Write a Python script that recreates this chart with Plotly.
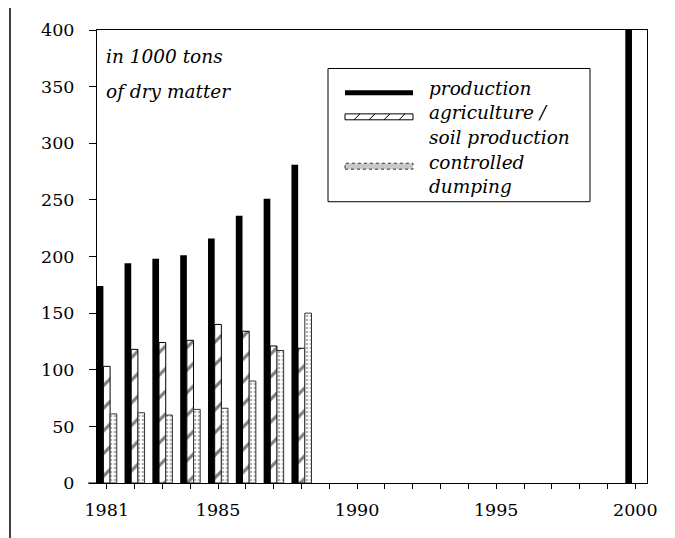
import plotly.graph_objects as go

# ---- data ----
prod_years = [1981, 1982, 1983, 1984, 1985, 1986, 1987, 1988, 2000]
production = [174, 194, 198, 201, 216, 236, 251, 281, 400]

sub_years = [1981, 1982, 1983, 1984, 1985, 1986, 1987, 1988]
agriculture = [103, 118, 124, 126, 140, 134, 121, 119]
dumping = [61, 62, 60, 65, 66, 90, 117, 150]

tick_years = list(range(1981, 2001))
tick_labels = [str(y) if y in (1981, 1985, 1990, 1995, 2000) else "" for y in tick_years]
y_ticks = [0, 50, 100, 150, 200, 250, 300, 350, 400]

legend_lines = ["production", "agriculture /", "soil production", "controlled", "dumping"]
note_lines = ["in 1000 tons", "of dry matter"]

# ---- layout geometry (page pixels; page body has an 8px margin) ----
W, H = 675, 538
OFF = 8
PL, PR, PT, PB = 97, 647, 24, 483          # plot area on the page
L, T = PL - OFF, PT - OFF
R, B = W - (PR - OFF), H - (PB - OFF)
PW, PH = PR - PL, PB - PT

def px(x):
    return (x - PL) / PW

def py(y):
    return (PB - y) / PH

FONT = "DejaVu Serif"

fig = go.Figure()
fig.add_trace(go.Bar(
    x=prod_years, y=production, name="production",
    marker=dict(color="black", line=dict(width=0)),
    showlegend=False,
))
fig.add_trace(go.Bar(
    x=sub_years, y=agriculture, name="agriculture / soil production",
    marker=dict(color="white", line=dict(color="black", width=1),
                pattern=dict(shape="/", fgcolor="black", size=16, solidity=0.2)),
    showlegend=False,
))
fig.add_trace(go.Bar(
    x=sub_years, y=dumping, name="controlled dumping",
    marker=dict(color="white", line=dict(color="#333", width=1),
                pattern=dict(shape=".", fgcolor="#666", size=4, solidity=0.35)),
    showlegend=False,
))

shapes = []
# page border line at far left
shapes.append(dict(type="line", xref="paper", yref="paper",
                   x0=px(10), x1=px(10), y0=py(H + 10), y1=py(0),
                   line=dict(color="black", width=1.5)))
# x-axis line extension to the left
shapes.append(dict(type="line", xref="paper", yref="paper",
                   x0=px(88), x1=0, y0=0, y1=0,
                   line=dict(color="black", width=1)))
# legend box
shapes.append(dict(type="rect", xref="paper", yref="paper",
                   x0=px(328), x1=px(590), y0=py(198), y1=py(63),
                   line=dict(color="black", width=1), fillcolor="white", layer="above"))
# legend sample: production
shapes.append(dict(type="rect", xref="paper", yref="paper",
                   x0=px(345), x1=px(413), y0=py(90), y1=py(85),
                   line=dict(color="black", width=0), fillcolor="black", layer="above"))
# legend sample: agriculture
shapes.append(dict(type="rect", xref="paper", yref="paper",
                   x0=px(345), x1=px(413), y0=py(115), y1=py(109),
                   line=dict(color="black", width=1), fillcolor="white", layer="above"))
for sx in (357, 372, 387, 402):
    shapes.append(dict(type="line", xref="paper", yref="paper",
                       x0=px(sx - 3), x1=px(sx + 3), y0=py(115), y1=py(109),
                       line=dict(color="black", width=1), layer="above"))
# legend sample: dumping
shapes.append(dict(type="rect", xref="paper", yref="paper",
                   x0=px(345), x1=px(413), y0=py(165), y1=py(159),
                   line=dict(color="#333", width=1, dash="dot"), fillcolor="#c8c8c8", layer="above"))

annotations = []
for t, yy in zip(legend_lines, [83, 108, 133, 158, 183]):
    annotations.append(dict(text="<i>" + t + "</i>", xref="paper", yref="paper",
                            x=px(427), y=py(yy), xanchor="left", yanchor="middle",
                            showarrow=False, font=dict(family=FONT, size=18.5, color="black")))
for t, yy in zip(note_lines, [51, 86]):
    annotations.append(dict(text="<i>" + t + "</i>", xref="paper", yref="paper",
                            x=px(104), y=py(yy), xanchor="left", yanchor="middle",
                            showarrow=False, font=dict(family=FONT, size=18.5, color="black")))

fig.update_layout(
    width=W, height=H,
    margin=dict(l=L, r=R, t=T, b=B, pad=0),
    paper_bgcolor="white", plot_bgcolor="white",
    barmode="group", bargap=0.28, bargroupgap=0,
    font=dict(family=FONT, size=17, color="black"),
    shapes=shapes, annotations=annotations,
    xaxis=dict(range=[1980.65, 2000.42], tickvals=tick_years, ticktext=tick_labels,
               ticks="outside", ticklen=5, tickcolor="black", tickwidth=1,
               showline=True, linecolor="black", linewidth=1, mirror=True,
               showgrid=False, zeroline=False, ticklabelstandoff=6,
               tickfont=dict(family=FONT, size=17.5, color="black")),
    yaxis=dict(range=[0, 400], tickvals=y_ticks,
               ticks="outside", ticklen=7, tickcolor="black", tickwidth=1,
               showline=True, linecolor="black", linewidth=1, mirror=True,
               showgrid=False, zeroline=False, ticklabelstandoff=11,
               tickfont=dict(family=FONT, size=17.5, color="black")),
)

fig.write_html("out.html")
